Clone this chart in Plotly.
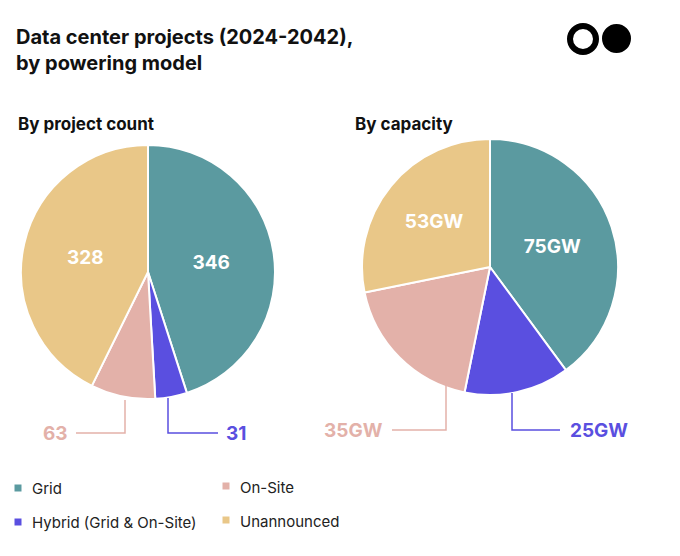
import plotly.graph_objects as go

labels = ["Grid", "Hybrid (Grid & On-Site)", "On-Site", "Unannounced"]
colors = ["#5b9aa0", "#5a4fe0", "#e3b1a9", "#e9c788"]
count_values = [346, 31, 63, 328]
capacity_values = [75, 25, 35, 53]
count_text = ["346", "", "", "328"]
capacity_text = ["75GW", "", "", "53GW"]

W, H = 680, 556
OFF = 8
def px(x): return (x - OFF) / W
def py(y): return 1 - (y - OFF) / H

fig = go.Figure()
for vals, txt, dom in [
    (count_values, count_text, dict(x=[px(21), px(275)], y=[py(399), py(145)])),
    (capacity_values, capacity_text, dict(x=[px(362), px(618)], y=[py(395), py(139)])),
]:
    fig.add_trace(go.Pie(labels=labels, values=vals, text=txt, textinfo="text",
                         sort=False, direction="clockwise", rotation=0,
                         marker=dict(colors=colors, line=dict(color="white", width=2)),
                         textfont=dict(family="Inter", size=19, color="white", weight="bold"),
                         insidetextorientation="horizontal", textposition="inside",
                         domain=dom, showlegend=False, hoverinfo="label+value"))

ann = []
def t(x, y, s, size, color="#111", anchor="left", bold=True):
    ann.append(dict(x=px(x), y=py(y), xref="paper", yref="paper", text=s, showarrow=False,
                    xanchor=anchor, yanchor="middle",
                    font=dict(family="Inter", size=size, color=color, weight="bold" if bold else "normal")))
t(14, 37, "Data center projects (2024-2042),", 20)
t(14, 63, "by powering model", 20)
t(16, 124, "By project count", 17)
t(353, 124, "By capacity", 17)
t(70, 433, "63", 19, colors[2], "right")
t(224, 433, "31", 19, colors[1], "left")
t(385, 430, "35GW", 19, colors[2], "right")
t(568, 430, "25GW", 19, colors[1], "left")
for (x, y, s, c) in [(30, 488, "Grid", colors[0]), (30, 522, "Hybrid (Grid & On-Site)", colors[1]),
                     (238, 487, "On-Site", colors[2]), (238, 521, "Unannounced", colors[3])]:
    t(x, y, s, 15, "#222", bold=False)

shapes = []
def line(pts, c):
    path = "M " + " L ".join(f"{px(a)},{py(b)}" for a, b in pts)
    shapes.append(dict(type="path", xref="paper", yref="paper", path=path, line=dict(color=c, width=1.5)))
line([(76, 433), (125, 433), (125, 400)], colors[2])
line([(168, 398), (168, 433), (218, 433)], colors[1])
line([(392, 430), (446, 430), (446, 382)], colors[2])
line([(512, 393), (512, 430), (560, 430)], colors[1])
for (x, y, c) in [(18, 488, colors[0]), (18, 522, colors[1]), (226, 486, colors[2]), (226, 520, colors[3])]:
    shapes.append(dict(type="rect", xref="paper", yref="paper", x0=px(x-3.5), x1=px(x+3.5),
                       y0=py(y+3.5), y1=py(y-3.5), fillcolor=c, line=dict(width=0)))
shapes.append(dict(type="circle", xref="paper", yref="paper", x0=px(570), x1=px(596), y0=py(52), y1=py(26),
                   fillcolor="white", line=dict(color="black", width=6)))
shapes.append(dict(type="circle", xref="paper", yref="paper", x0=px(602), x1=px(631), y0=py(53), y1=py(24),
                   fillcolor="black", line=dict(width=0)))

fig.update_layout(width=W, height=H, margin=dict(l=0, r=0, t=0, b=0), paper_bgcolor="white",
                  annotations=ann, shapes=shapes)
fig.write_html("out.html")
